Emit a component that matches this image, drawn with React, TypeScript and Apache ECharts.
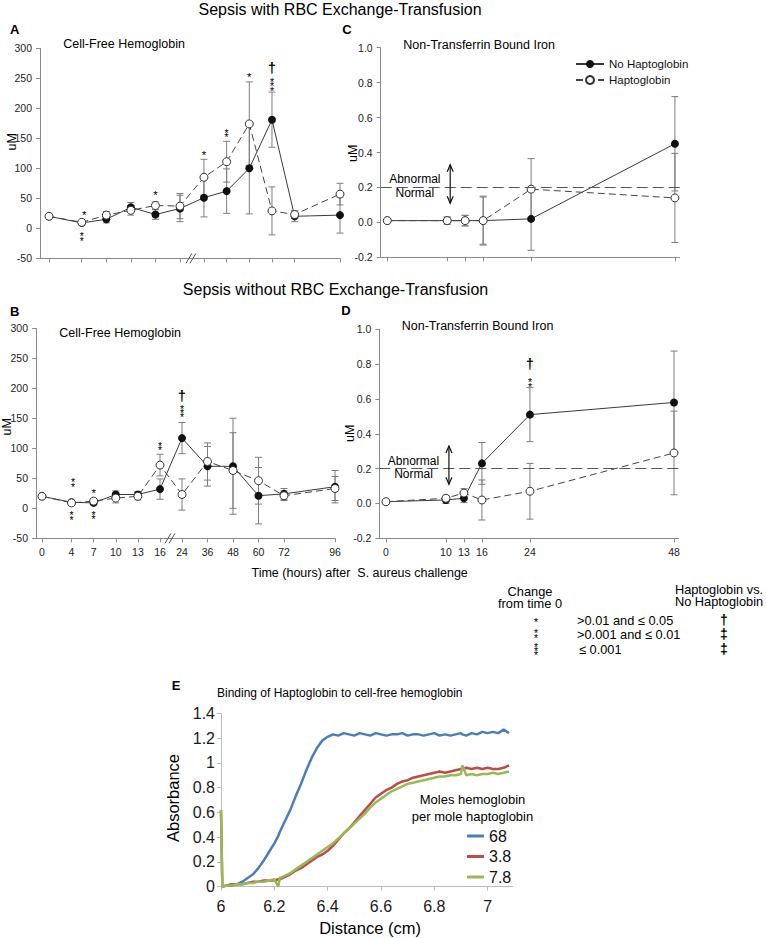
import React, { useEffect, useRef } from 'react';
import * as echarts from 'echarts';

const FONT = "'Liberation Sans', Arial, Helvetica, sans-serif";

// ---------------- Panels A & B : cell-free hemoglobin (uM) ----------------
const hoursAB = [0, 4, 7, 10, 13, 16, 24, 36, 48, 60, 72, 96];
// A: sepsis with RBC exchange-transfusion
const hbExchNoHp = [20, 9, 15, 35, 23, 33, 51, 62, 100, 181, 20, 22];
const hbExchNoHpErr = [0, 3, 6, 8, 8, 22, 32, 37, 76, 46, 9, 30];
const hbExchHp = [20, 10, 22, 30, 38, 37, 85, 111, 174, 29, 23, 57];
const hbExchHpErr = [0, 2, 6, 8, 6, 21, 30, 34, 70, 40, 6, 18];
// B: sepsis without RBC exchange-transfusion
const hbNoExchNoHp = [20, 10, 9, 23, 23, 32, 117, 70, 70, 21, 24, 36];
const hbNoExchNoHpErr = [0, 2, 3, 6, 5, 17, 26, 33, 80, 47, 9, 27];
const hbNoExchHp = [20, 9, 12, 17, 20, 72, 23, 78, 63, 46, 21, 33];
const hbNoExchHpErr = [0, 2, 4, 8, 6, 18, 26, 31, 63, 39, 8, 20];

// ---------------- Panels C & D : non-transferrin bound iron (uM) ----------------
const hoursCD = [0, 10, 13, 16, 24, 48];
const ntbiExchNoHp = [0.01, 0.01, 0.01, 0.01, 0.02, 0.45];
const ntbiExchNoHpErr = [0, 0.02, 0.03, 0.14, 0.18, 0.27];
const ntbiExchHp = [0.01, 0.01, 0.01, 0.01, 0.19, 0.14];
const ntbiExchHpErr = [0, 0.02, 0.03, 0.135, 0.175, 0.255];
const ntbiNoExchNoHp = [0.01, 0.02, 0.03, 0.23, 0.51, 0.58];
const ntbiNoExchNoHpErr = [0, 0.02, 0.025, 0.12, 0.155, 0.295];
const ntbiNoExchHp = [0.01, 0.03, 0.06, 0.02, 0.07, 0.29];
const ntbiNoExchHpErr = [0, 0.015, 0.025, 0.115, 0.16, 0.24];
const ntbiThreshold = 0.2;
const normalLabels: [number, number, string][] = [
  [4.6, 0.246, 'Abnormal'],
  [4.6, 0.17, 'Normal'],
];
const arrowSpan = [10.5, 0.11, 0.33];

// significance marks: [hour, value, mark]
const marksA: [number, number, string][] = [
  [4.3, 23, '*'], [4, -17, '**'], [13, 56, '*'], [24, 122, '*'],
  [36, 156, '**'], [48, 253, '*'], [60, 237, '***'], [60, 268, '†'],
];
const marksB: [number, number, string][] = [
  [4.2, 40, '**'], [4, -15, '**'], [7, 26, '*'], [7, -14, '**'],
  [16, 101, '**'], [24, 159, '***'], [24, 187, '†'],
];
const marksD: [number, number, string][] = [
  [24, 0.684, '**'], [24, 0.8, '†'],
];

// ---------------- Panel E : absorbance traces ----------------
const distanceCm = [6.0, 6.005, 6.02, 6.04, 6.06, 6.08, 6.1, 6.12, 6.14, 6.16, 6.18, 6.2, 6.215,
  6.22, 6.24, 6.26, 6.28, 6.3, 6.32, 6.34, 6.36, 6.38, 6.4, 6.42, 6.44, 6.46, 6.48, 6.5, 6.52,
  6.54, 6.56, 6.58, 6.6, 6.62, 6.64, 6.66, 6.68, 6.7, 6.72, 6.74, 6.76, 6.78, 6.8, 6.82, 6.84,
  6.86, 6.88, 6.9, 6.905, 6.92, 6.94, 6.96, 6.98, 7.0, 7.02, 7.04, 7.06, 7.08];
const abs68 = [null, null, 0.01, 0.01, 0.02, 0.04, 0.07, 0.1, 0.15, 0.21, 0.28, 0.35, 0.41,
  0.44, 0.53, 0.62, 0.73, 0.83, 0.94, 1.04, 1.12, 1.18, 1.21, 1.23, 1.22, 1.24, 1.23, 1.22, 1.24,
  1.23, 1.22, 1.24, 1.23, 1.22, 1.23, 1.23, 1.24, 1.22, 1.23, 1.23, 1.22, 1.23, 1.24, 1.22, 1.23,
  1.22, 1.23, 1.24, 1.23, 1.22, 1.24, 1.23, 1.25, 1.24, 1.25, 1.24, 1.27, 1.24];
const abs3p8 = [0.62, 0.0, 0.01, 0.02, 0.02, 0.02, 0.03, 0.04, 0.04, 0.05, 0.05, 0.05, 0.06,
  0.06, 0.08, 0.1, 0.13, 0.15, 0.18, 0.21, 0.24, 0.26, 0.29, 0.33, 0.38, 0.43, 0.47, 0.52, 0.57,
  0.62, 0.67, 0.72, 0.75, 0.78, 0.8, 0.83, 0.85, 0.86, 0.88, 0.89, 0.9, 0.91, 0.92, 0.93, 0.92,
  0.93, 0.94, 0.95, 0.95, 0.96, 0.95, 0.96, 0.95, 0.96, 0.95, 0.95, 0.96, 0.98];
const abs7p8 = [0.62, 0.0, 0.01, 0.01, 0.02, 0.02, 0.03, 0.03, 0.04, 0.04, 0.05, 0.06, 0.0,
  0.07, 0.09, 0.11, 0.14, 0.17, 0.2, 0.23, 0.26, 0.29, 0.32, 0.35, 0.39, 0.43, 0.47, 0.51, 0.55,
  0.59, 0.64, 0.68, 0.71, 0.74, 0.77, 0.79, 0.81, 0.83, 0.84, 0.85, 0.86, 0.87, 0.88, 0.89, 0.89,
  0.9, 0.9, 0.91, 0.98, 0.9, 0.91, 0.9, 0.91, 0.91, 0.92, 0.91, 0.92, 0.93];
const distanceTicks = [6, 6.2, 6.4, 6.6, 6.8, 7];
const ratioNames = ['68', '3.8', '7.8'];
const ratioColors = ['#4a7ebb', '#be4b48', '#98b954'];

// broken time axis: hours up to 16 at full scale, then a gap, then compressed
function brokenScale(gap: number, ratio: number) {
  return (h: number) => (h <= 16 ? h : 16 + gap + (h - 24) * ratio);
}
const posA = brokenScale(2.93, 0.2308);
const posB = brokenScale(2.98, 0.288);

const AX = '#8a8a8a';
const INK = '#000';

function timeAxis(grid: number, min: number, max: number, ticks: number[], showLabels: boolean, fmt?: (v: number) => string) {
  return {
    gridIndex: grid, type: 'value', min, max,
    axisLine: { show: true, onZero: false, lineStyle: { color: AX, width: 1 } },
    axisTick: { show: true, length: 4, customValues: ticks, lineStyle: { color: AX } },
    axisLabel: showLabels
      ? { show: true, customValues: ticks, fontSize: 10.5, color: '#222', fontFamily: FONT, margin: 8, formatter: fmt }
      : { show: false },
    splitLine: { show: false },
  };
}
function valueAxis(grid: number, min: number, max: number, interval: number, fmt?: (v: number) => string) {
  return {
    gridIndex: grid, type: 'value', min, max, interval,
    axisLine: { show: true, onZero: false, lineStyle: { color: AX, width: 1 } },
    axisTick: { show: true, length: 4, lineStyle: { color: AX } },
    axisLabel: { fontSize: 10.5, color: '#222', fontFamily: FONT, margin: 8, formatter: fmt },
    splitLine: { show: false },
  };
}

function errorSeries(grid: number, xs: number[], vals: number[], errs: number[]) {
  const data = xs.map((x, i) => [x, vals[i] - errs[i], vals[i] + errs[i]]).filter((_, i) => errs[i] > 0);
  return {
    type: 'custom', xAxisIndex: grid, yAxisIndex: grid, z: 2, silent: true, clip: false,
    data,
    encode: { x: 0, y: [1, 2] },
    renderItem: (_p: any, api: any) => {
      const x = api.value(0);
      const a = api.coord([x, api.value(1)]);
      const b = api.coord([x, api.value(2)]);
      const w = 3.5;
      const st = { stroke: '#7d7d7d', lineWidth: 1 };
      return {
        type: 'group',
        children: [
          { type: 'line', shape: { x1: a[0], y1: a[1], x2: b[0], y2: b[1] }, style: st },
          { type: 'line', shape: { x1: a[0] - w, y1: a[1], x2: a[0] + w, y2: a[1] }, style: st },
          { type: 'line', shape: { x1: b[0] - w, y1: b[1], x2: b[0] + w, y2: b[1] }, style: st },
        ],
      };
    },
  };
}

function noHpSeries(grid: number, xs: number[], vals: number[], extra: any = {}) {
  return {
    name: 'No Haptoglobin', type: 'line', xAxisIndex: grid, yAxisIndex: grid, z: 3, clip: false,
    data: xs.map((x, i) => [x, vals[i]]),
    symbol: 'circle', symbolSize: 8,
    itemStyle: { color: '#111' },
    lineStyle: { color: '#3a3a3a', width: 1 },
    emphasis: { disabled: true },
    ...extra,
  };
}
function hpSeries(grid: number, xs: number[], vals: number[]) {
  return {
    name: 'Haptoglobin', type: 'line', xAxisIndex: grid, yAxisIndex: grid, z: 4, clip: false,
    data: xs.map((x, i) => [x, vals[i]]),
    symbol: 'circle', symbolSize: 8,
    itemStyle: { color: '#fff', borderColor: '#333', borderWidth: 1 },
    lineStyle: { color: '#444', width: 1, type: [7, 4] },
    emphasis: { disabled: true },
  };
}

function markStyle(label: string) {
  const star = /^\*+$/.test(label);
  const dagger = label === '†' || label === '‡';
  const style: any = {
    text: star ? label.split('').join('\n') : label,
    textAlign: 'center', textVerticalAlign: 'middle', fill: INK, fontFamily: FONT,
    fontSize: star ? (label.length > 1 ? 10.5 : 11.5) : dagger ? 14 : 12,
    fontWeight: dagger ? 'bold' : 'normal',
  };
  if (star) style.lineHeight = 4.4;
  return style;
}

function textSeries(grid: number, items: [number, number, string][]) {
  return {
    type: 'custom', xAxisIndex: grid, yAxisIndex: grid, z: 6, silent: true, clip: false,
    data: items.map((d) => [d[0], d[1]]),
    encode: { x: 0, y: 1 },
    renderItem: (params: any, api: any) => {
      const label = items[params.dataIndex][2];
      const p = api.coord([api.value(0), api.value(1)]);
      const style = label === 'Abnormal' || label === 'Normal'
        ? { text: label, textAlign: 'center', textVerticalAlign: 'middle', fill: INK, fontFamily: FONT, fontSize: 12 }
        : markStyle(label);
      return { type: 'text', x: p[0], y: p[1], style };
    },
  };
}

function breakSeries(grid: number, at: number, yMin: number) {
  return {
    type: 'custom', xAxisIndex: grid, yAxisIndex: grid, z: 7, silent: true, clip: false,
    data: [[at, yMin]],
    encode: { x: 0, y: 1 },
    renderItem: (_p: any, api: any) => {
      const c = api.coord([api.value(0), api.value(1)]);
      const st = { stroke: '#555', lineWidth: 1 };
      return {
        type: 'group',
        children: [
          { type: 'line', shape: { x1: c[0] - 6, y1: c[1] + 5, x2: c[0], y2: c[1] - 5 }, style: st },
          { type: 'line', shape: { x1: c[0] - 2, y1: c[1] + 5, x2: c[0] + 4, y2: c[1] - 5 }, style: st },
        ],
      };
    },
  };
}

function arrowSeries(grid: number) {
  return {
    type: 'custom', xAxisIndex: grid, yAxisIndex: grid, z: 6, silent: true, clip: false,
    data: [arrowSpan],
    encode: { x: 0, y: [1, 2] },
    renderItem: (_p: any, api: any) => {
      const x = api.value(0);
      const lo = api.coord([x, api.value(1)]);
      const hi = api.coord([x, api.value(2)]);
      const st = { stroke: '#111', lineWidth: 1.2, fill: 'none' };
      return {
        type: 'group',
        children: [
          { type: 'line', shape: { x1: lo[0], y1: lo[1], x2: hi[0], y2: hi[1] }, style: st },
          { type: 'polyline', shape: { points: [[hi[0] - 3, hi[1] + 7], [hi[0], hi[1]], [hi[0] + 3, hi[1] + 7]] }, style: st },
          { type: 'polyline', shape: { points: [[lo[0] - 3, lo[1] - 7], [lo[0], lo[1]], [lo[0] + 3, lo[1] - 7]] }, style: st },
        ],
      };
    },
  };
}

const thresholdLine = {
  markLine: {
    silent: true, symbol: 'none', label: { show: false },
    lineStyle: { color: '#555', width: 1, type: [11, 5] },
    data: [{ yAxis: ntbiThreshold }],
  },
};

function txt(text: string, x: number, y: number, o: any = {}) {
  const style: any = {
    text, fontSize: o.size ?? 12.5, fontFamily: FONT, fontWeight: o.weight ?? 'normal',
    fill: INK, textAlign: o.align ?? 'left', textVerticalAlign: 'middle',
  };
  if (o.lineHeight) style.lineHeight = o.lineHeight;
  return { type: 'text', x, y, rotation: o.rotate ?? 0, silent: true, style };
}
function markTxt(label: string, x: number, y: number) {
  return { type: 'text', x, y, silent: true, style: markStyle(label) };
}

function buildOption() {
  const ticksA = hoursAB.map(posA);
  const ticksB = hoursAB.map(posB);
  const fmtB = (v: number) => {
    const i = hoursAB.findIndex((h) => Math.abs(posB(h) - v) < 1e-6);
    return i >= 0 ? String(hoursAB[i]) : '';
  };
  const xsA = hoursAB.map(posA);
  const xsB = hoursAB.map(posB);
  const mA = marksA.map((m) => [posA(m[0]), m[1], m[2]] as [number, number, string]);
  const mB = marksB.map((m) => [posB(m[0]), m[1], m[2]] as [number, number, string]);
  const f1 = (v: number) => v.toFixed(1);

  const eAxisLine = { show: true, onZero: false, lineStyle: { color: '#bdbdbd', width: 1 } };
  const eTick = { show: true, length: 4, lineStyle: { color: '#bdbdbd' } };

  return {
    animation: false,
    backgroundColor: '#fff',
    textStyle: { fontFamily: FONT },
    grid: [
      { left: 40, top: 48.3, width: 300, height: 210, outerBoundsMode: 'none' },
      { left: 36, top: 328.3, width: 299, height: 210, outerBoundsMode: 'none' },
      { left: 380.7, top: 47.7, width: 299, height: 209.6, outerBoundsMode: 'none' },
      { left: 379.3, top: 329.3, width: 299.5, height: 209, outerBoundsMode: 'none' },
      { left: 221, top: 713.3, width: 291.7, height: 173.4, outerBoundsMode: 'none' },
    ],
    xAxis: [
      timeAxis(0, -1.1, posA(96), ticksA, false),
      timeAxis(1, -0.81, posB(96), ticksB, true, fmtB),
      timeAxis(2, -1.1, 48.8, hoursCD, false),
      timeAxis(3, -1.1, 48.8, hoursCD, true, (v: number) => String(v)),
      {
        gridIndex: 4, type: 'value', min: 6, max: 7.094,
        axisLine: eAxisLine,
        axisTick: { ...eTick, customValues: distanceTicks },
        axisLabel: { customValues: distanceTicks, fontSize: 16, color: '#1a1a1a', fontFamily: FONT, margin: 12 },
        splitLine: { show: false },
      },
    ],
    yAxis: [
      valueAxis(0, -50, 300, 50),
      valueAxis(1, -50, 300, 50),
      valueAxis(2, -0.2, 1.0, 0.2, f1),
      valueAxis(3, -0.2, 1.0, 0.2, f1),
      {
        gridIndex: 4, type: 'value', min: 0, max: 1.4, interval: 0.2,
        axisLine: eAxisLine, axisTick: eTick,
        axisLabel: { fontSize: 16, color: '#1a1a1a', fontFamily: FONT, margin: 6 },
        splitLine: { show: false },
      },
    ],
    legend: [
      {
        data: ['No Haptoglobin', 'Haptoglobin'], orient: 'vertical', left: 570, top: 53,
        itemWidth: 28, itemHeight: 10, itemGap: 4, selectedMode: false,
        textStyle: { fontSize: 11.5, color: '#111', fontFamily: FONT },
      },
      {
        data: ratioNames, orient: 'vertical', left: 462, top: 823, icon: 'rect',
        itemWidth: 17, itemHeight: 3, itemGap: 4.5, selectedMode: false,
        textStyle: { fontSize: 16, color: '#111', fontFamily: FONT },
      },
    ],
    graphic: {
      elements: [
        txt('Sepsis with RBC Exchange-Transfusion', 340, 9, { size: 16, align: 'center' }),
        txt('Sepsis without RBC Exchange-Transfusion', 335.5, 289, { size: 16, align: 'center' }),
        txt('A', 14.7, 29.5, { size: 13, weight: 'bold', align: 'center' }),
        txt('B', 14.7, 311.7, { size: 13, weight: 'bold', align: 'center' }),
        txt('C', 347, 29.5, { size: 13, weight: 'bold', align: 'center' }),
        txt('D', 346, 310.7, { size: 13, weight: 'bold', align: 'center' }),
        txt('E', 176, 685, { size: 13, weight: 'bold', align: 'center' }),
        txt('Cell-Free Hemoglobin', 63.3, 44.3, { size: 12.5 }),
        txt('Cell-Free Hemoglobin', 59.3, 333.3, { size: 12.5 }),
        txt('Non-Transferrin Bound Iron', 403.3, 45, { size: 12.5 }),
        txt('Non-Transferrin Bound Iron', 401.7, 326, { size: 12.5 }),
        txt('uM', 11.7, 141.7, { size: 12.5, align: 'center', rotate: Math.PI / 2 }),
        txt('uM', 7, 426.7, { size: 12.5, align: 'center', rotate: Math.PI / 2 }),
        txt('uM', 353.3, 153.3, { size: 12.5, align: 'center', rotate: Math.PI / 2 }),
        txt('uM', 350, 433.3, { size: 12.5, align: 'center', rotate: Math.PI / 2 }),
        txt('Time (hours) after  S. aureus challenge', 251.5, 573.3, { size: 12.5 }),
        // significance key
        txt('Change', 530, 591.7, { size: 12.8, align: 'center' }),
        txt('from time 0', 530, 603.5, { size: 12.8, align: 'center' }),
        txt('Haptoglobin vs.', 719, 589.3, { size: 12.8, align: 'center' }),
        txt('No Haptoglobin', 719, 601.7, { size: 12.8, align: 'center' }),
        markTxt('*', 536, 622.4),
        markTxt('**', 536, 635.5),
        markTxt('***', 536, 651),
        txt('>0.01 and ≤ 0.05', 577, 620, { size: 12.8 }),
        txt('>0.001 and ≤ 0.01', 577, 634, { size: 12.8 }),
        txt('≤ 0.001', 579, 649, { size: 12.8 }),
        markTxt('†', 724, 620),
        markTxt('‡', 724, 634),
        markTxt('‡', 724, 649),
        // panel E
        txt('Binding of Haptoglobin to cell-free hemoglobin', 217, 693, { size: 12 }),
        txt('Absorbance', 173, 798, { size: 16.5, align: 'center', rotate: Math.PI / 2 }),
        txt('Distance (cm)', 370, 928, { size: 16.5, align: 'center' }),
        txt('Moles hemoglobin', 472.5, 799.3, { size: 13, align: 'center' }),
        txt('per mole haptoglobin', 472.5, 816.7, { size: 13, align: 'center' }),
      ],
    },
    series: [
      // A
      errorSeries(0, xsA, hbExchNoHp, hbExchNoHpErr),
      errorSeries(0, xsA, hbExchHp, hbExchHpErr),
      noHpSeries(0, xsA, hbExchNoHp),
      hpSeries(0, xsA, hbExchHp),
      textSeries(0, mA),
      breakSeries(0, 16 + 2.93 / 2, -50),
      // B
      errorSeries(1, xsB, hbNoExchNoHp, hbNoExchNoHpErr),
      errorSeries(1, xsB, hbNoExchHp, hbNoExchHpErr),
      noHpSeries(1, xsB, hbNoExchNoHp),
      hpSeries(1, xsB, hbNoExchHp),
      textSeries(1, mB),
      breakSeries(1, 16 + 2.98 / 2, -50),
      // C
      errorSeries(2, hoursCD, ntbiExchNoHp, ntbiExchNoHpErr),
      errorSeries(2, hoursCD, ntbiExchHp, ntbiExchHpErr),
      noHpSeries(2, hoursCD, ntbiExchNoHp, thresholdLine),
      hpSeries(2, hoursCD, ntbiExchHp),
      textSeries(2, normalLabels),
      arrowSeries(2),
      // D
      errorSeries(3, hoursCD, ntbiNoExchNoHp, ntbiNoExchNoHpErr),
      errorSeries(3, hoursCD, ntbiNoExchHp, ntbiNoExchHpErr),
      noHpSeries(3, hoursCD, ntbiNoExchNoHp, thresholdLine),
      hpSeries(3, hoursCD, ntbiNoExchHp),
      textSeries(3, normalLabels),
      textSeries(3, marksD),
      arrowSeries(3),
      // E
      ...[abs68, abs3p8, abs7p8].map((arr, k) => ({
        name: ratioNames[k], type: 'line', xAxisIndex: 4, yAxisIndex: 4, z: 3 + k,
        data: distanceCm.map((x, i) => [x, arr[i]]).filter((d) => d[1] !== null),
        symbol: 'none', showSymbol: false, clip: false,
        lineStyle: { color: ratioColors[k], width: 2.5 },
        itemStyle: { color: ratioColors[k] },
        emphasis: { disabled: true },
      })),
    ],
  };
}

export default function App() {
  const ref = useRef<HTMLDivElement>(null);
  useEffect(() => {
    if (!ref.current) return;
    const chart = echarts.init(ref.current, undefined, { renderer: 'svg' });
    chart.setOption(buildOption() as any);
    return () => chart.dispose();
  }, []);
  return (
    <div
      ref={ref}
      style={{ position: 'fixed', left: 0, top: 0, width: 766, height: 938, background: '#fff' }}
    />
  );
}
